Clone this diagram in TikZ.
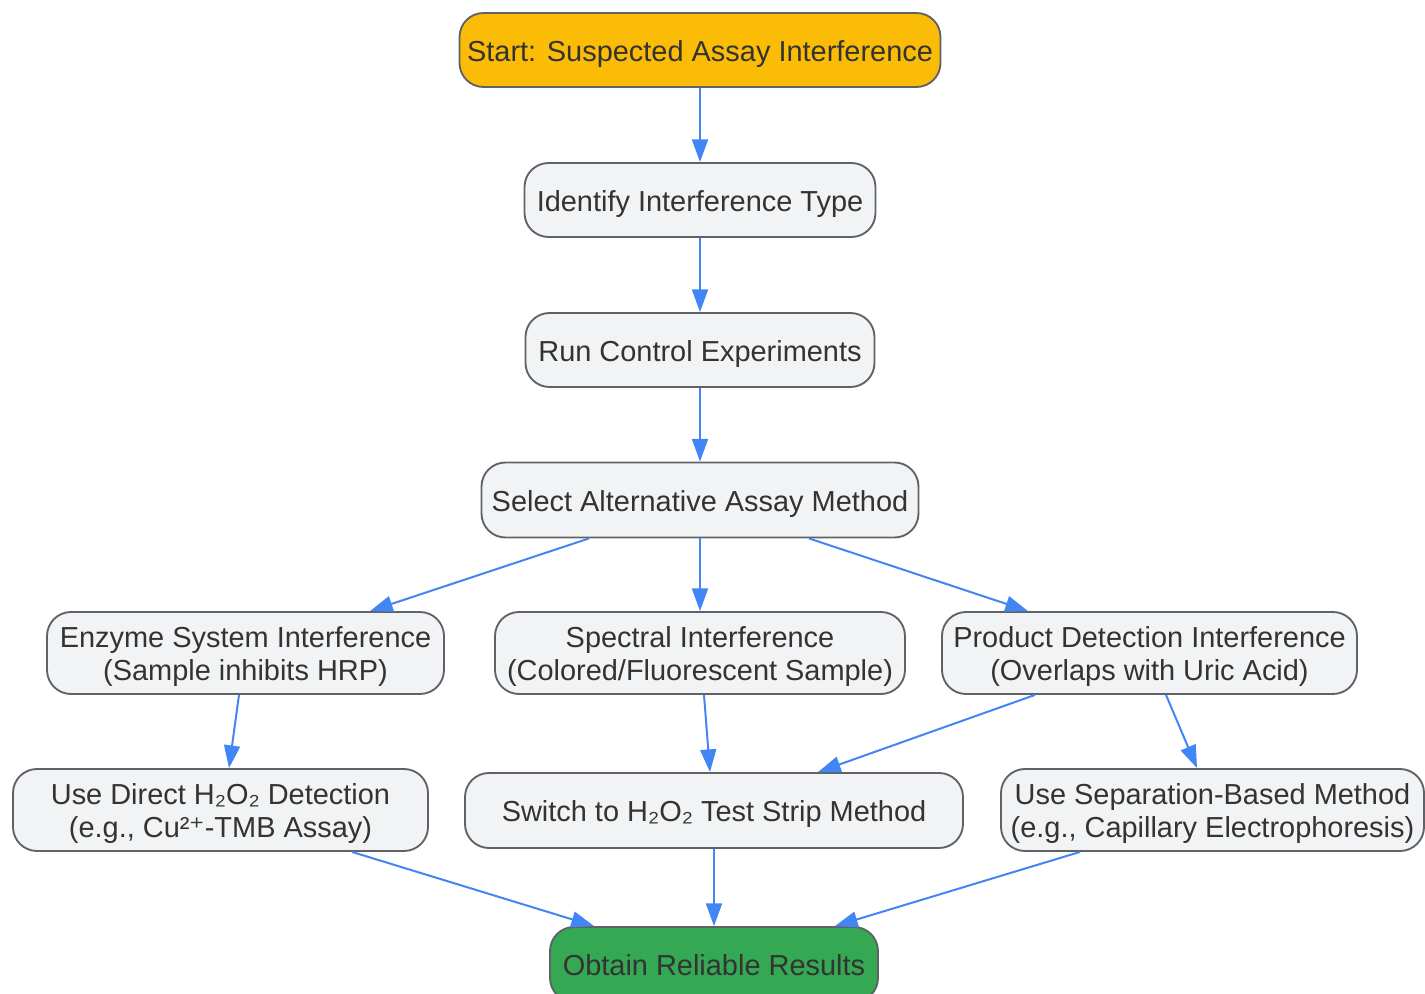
\documentclass[tikz,border=0pt]{standalone}
\usepackage{fontspec}
\setmainfont{Liberation Sans}
\newfontfamily\djv{DejaVu Sans}
\usetikzlibrary{arrows.meta,calc}
\definecolor{boxfill}{HTML}{F1F3F4}
\definecolor{boxline}{HTML}{5F6368}
\definecolor{txt}{HTML}{333333}
\definecolor{startfill}{HTML}{FBBC05}
\definecolor{endfill}{HTML}{34A853}
\definecolor{arrowc}{HTML}{4285F4}
\newcommand{\topstrut}{\rule{0pt}{22pt}}
\newcommand{\botstrut}{\rule[-5pt]{0pt}{5pt}}
\tikzset{
  box/.style={draw=boxline, line width=1.4pt, fill=boxfill, rounded corners=18pt,
    text=txt, align=center, inner sep=0pt, font=\fontsize{21.7pt}{24.75pt}\selectfont},
  startbox/.style={box, fill=startfill},
  endbox/.style={box, fill=endfill},
  conn/.style={draw=arrowc, line width=1.5pt, -{Triangle[length=17pt,width=12pt]}}
}
\begin{document}
\begin{tikzpicture}[x=0.75pt,y=-0.75pt]
\useasboundingbox (0,0) rectangle (1425,994);
\begin{scope}
\clip (0,0) rectangle (1425,994);
\node[startbox, minimum width=360.75pt, minimum height=55.5pt] (start) at (700,50) {\topstrut Start: Suspected Assay Interference\botstrut};
\node[box, minimum width=263.25pt, minimum height=55.5pt] (ident) at (700,200) {\topstrut Identify Interference Type\botstrut};
\node[box, minimum width=261.75pt, minimum height=55.5pt] (run) at (700,350) {\topstrut Run Control Experiments\botstrut};
\node[box, minimum width=327.75pt, minimum height=56.25pt] (sel) at (700,500) {\topstrut Select Alternative Assay Method\botstrut};
\node[box, minimum width=297.75pt, minimum height=61.5pt] (enz) at (245.5,653) {\topstrut Enzyme System Interference\\(Sample inhibits HRP)\botstrut};
\node[box, minimum width=307.5pt, minimum height=61.5pt] (spec) at (700,653) {\topstrut Spectral Interference\\(Colored/Fluorescent Sample)\botstrut};
\node[box, minimum width=311.25pt, minimum height=61.5pt] (prod) at (1149.5,653) {\topstrut Product Detection Interference\\(Overlaps with Uric Acid)\botstrut};
\node[box, minimum width=311.25pt, minimum height=61.5pt] (direct) at (220.5,810) {\topstrut Use Direct H₂O₂ Detection\\(e.g., Cu²{\djv ⁺}-TMB Assay)\botstrut};
\node[box, minimum width=373.5pt, minimum height=56.25pt] (strip) at (714,810.5) {\topstrut Switch to H₂O₂ Test Strip Method\botstrut};
\node[box, minimum width=317.25pt, minimum height=61.5pt] (sep) at (1212.5,810) {\topstrut Use Separation-Based Method\\(e.g., Capillary Electrophoresis)\botstrut};
\node[endbox, minimum width=246pt, minimum height=56.25pt] (obtain) at (714,964.5) {\topstrut Obtain Reliable Results\botstrut};
\end{scope}
\draw[conn] (start) -- (ident);
\draw[conn] (ident) -- (run);
\draw[conn] (run) -- (sel);
\draw[conn] ($(sel.south)+(-111,0)$) -- ($(enz.north)+(124.5,0)$);
\draw[conn] (sel) -- (spec);
\draw[conn] ($(sel.south)+(109,0)$) -- ($(prod.north)+(-121.5,0)$);
\draw[conn] ($(enz.south)+(-6.5,0)$) -- ($(direct.north)+(8.5,0)$);
\draw[conn] ($(spec.south)+(4,0)$) -- ($(strip.north)+(-4,0)$);
\draw[conn] ($(prod.south)+(-114.5,0)$) -- ($(strip.north)+(104,0)$);
\draw[conn] ($(prod.south)+(16.5,0)$) -- ($(sep.north)+(-15.5,0)$);
\draw[conn] ($(direct.south)+(131.5,0)$) -- ($(obtain.north)+(-120,0)$);
\draw[conn] (strip) -- (obtain);
\draw[conn] ($(sep.south)+(-132.5,0)$) -- ($(obtain.north)+(121,0)$);
\end{tikzpicture}
\end{document}
